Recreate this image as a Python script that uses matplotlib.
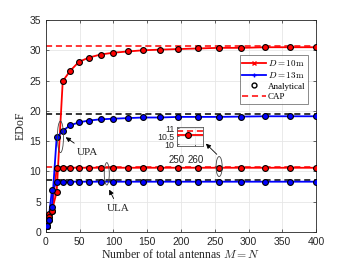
import numpy as np
import matplotlib
matplotlib.use('Agg')
import matplotlib.pyplot as plt
from matplotlib.patches import Ellipse
from matplotlib.lines import Line2D

plt.rcParams['font.family'] = 'Liberation Sans'
plt.rcParams['mathtext.fontset'] = 'cm'

# total antennas M = N
x = [1, 4, 9, 16, 25, 36, 49, 64, 81, 100, 121, 144, 169, 196, 225, 256, 289, 324, 361, 400]

upa_d10 = [1.0, 3.0, 3.5, 6.6, 24.9, 26.6, 28.1, 28.8, 29.3, 29.6, 29.8, 30.0, 30.1, 30.2,
           30.3, 30.4, 30.4, 30.5, 30.5, 30.5]
upa_d13 = [1.0, 2.0, 4.2, 15.6, 16.7, 17.6, 18.1, 18.4, 18.6, 18.7, 18.8, 18.9, 18.9, 19.0,
           19.0, 19.0, 19.05, 19.1, 19.1, 19.1]
ula_d10 = [1.0, 2.5, 3.5, 10.5, 10.6, 10.6, 10.6, 10.6, 10.6, 10.6, 10.6, 10.6, 10.6, 10.6,
           10.6, 10.6, 10.6, 10.6, 10.6, 10.6]
ula_d13 = [1.0, 2.0, 6.9, 8.2, 8.3, 8.3, 8.3, 8.3, 8.3, 8.3, 8.3, 8.3, 8.3, 8.3,
           8.3, 8.3, 8.3, 8.3, 8.3, 8.3]

cap_upa_d10 = 30.7
cap_upa_d13 = 19.4
cap_ula_d10 = 10.8
cap_ula_d13 = 8.6

red = '#ff0000'
blue = '#0000ff'
tc = '#262626'

fig = plt.figure(figsize=(3.5, 2.63), dpi=100)
ax = fig.add_axes([0.131, 0.118, 0.772, 0.806])


def draw(a, ms=4.2):
    for y, c, m in [(upa_d10, red, 'x'), (ula_d10, red, 'x'),
                    (upa_d13, blue, '+'), (ula_d13, blue, '+')]:
        a.plot(x, y, color=c, lw=1.3, marker=m, ms=3, zorder=3)
        a.plot(x, y, ls='none', marker='o', ms=ms, mfc=c, mec='k', mew=0.8, zorder=4)
    for v, c in [(cap_upa_d10, red), (cap_ula_d10, red),
                 (cap_upa_d13, 'k'), (cap_ula_d13, 'k')]:
        a.axhline(v, color=c, ls=(0, (4, 2.5)), lw=1.1, zorder=2)


draw(ax)
ax.set_xlim(0, 400)
ax.set_ylim(0, 35)
ax.set_xticks(np.arange(0, 401, 50))
ax.set_yticks(np.arange(0, 36, 5))
ax.grid(True, color='#e6e6e6', lw=0.6)
ax.set_axisbelow(True)
ax.tick_params(direction='in', labelsize=7.5, colors=tc, length=2.5, width=0.5,
               top=True, right=True)
for s in ax.spines.values():
    s.set_color(tc)
    s.set_linewidth(0.6)
ax.set_xlabel('Number of total antennas $M=N$', family='Liberation Serif',
              fontsize=8.5, color=tc, labelpad=1)
ax.set_ylabel('EDoF', family='Liberation Serif', fontsize=8.5, color=tc, labelpad=2)

handles = [Line2D([], [], color=red, lw=1.3, marker='x', ms=3),
           Line2D([], [], color=blue, lw=1.3, marker='+', ms=3),
           Line2D([], [], ls='none', marker='o', ms=3.5, mfc='none', mec='k', mew=1),
           Line2D([], [], color=red, lw=1.1, ls=(0, (4, 2.5)))]
labels = [r'$D=10\,\mathrm{m}$', r'$D=13\,\mathrm{m}$', 'Analytical', 'CAP']
leg = ax.legend(handles, labels, loc='upper right', bbox_to_anchor=(0.97, 0.835),
                prop={'family': 'Liberation Serif', 'size': 6.5},
                frameon=True, fancybox=False, edgecolor='#555555', handlelength=2.6,
                handletextpad=0.2, borderpad=0.3, labelspacing=0.25, borderaxespad=0)
leg.get_frame().set_linewidth(0.6)

# annotations
for cx, cy, w, h in [(21.6, 15.7, 9, 5.2), (90.2, 9.6, 7.4, 3.7), (256.5, 10.8, 9, 3.3)]:
    ax.add_patch(Ellipse((cx, cy), w, h, fill=False, ec='#444444', lw=0.6, zorder=5))
ax.annotate('UPA', xy=(26, 15.9), xytext=(61, 13.2), fontsize=8,
            family='Liberation Serif', color=tc, ha='center', va='center',
            arrowprops=dict(arrowstyle='-|>', color='k', lw=0.6, mutation_scale=7))
ax.annotate('ULA', xy=(92, 7.4), xytext=(107.5, 3.9), fontsize=8,
            family='Liberation Serif', color=tc, ha='center', va='center',
            arrowprops=dict(arrowstyle='-|>', color='k', lw=0.6, mutation_scale=7))
ax.annotate('', xy=(234, 14.9), xytext=(256, 12.5),
            arrowprops=dict(arrowstyle='-|>', color='k', lw=0.6, mutation_scale=7))

# inset
axi = fig.add_axes([176.7 / 350, 1 - 145.7 / 263, 26 / 350, 19 / 263])
draw(axi, ms=4.2)
axi.set_xlim(250, 264)
axi.set_ylim(9.9, 11.1)
axi.set_xticks([250, 260])
axi.set_yticks([10, 10.5, 11])
axi.set_yticklabels(['10', '10.5', '11'])
axi.grid(True, color='#e6e6e6', lw=0.6)
axi.tick_params(direction='in', labelsize=6.3, colors=tc, length=1.5, width=0.5, pad=1.5)
axi.tick_params(axis='x', labelsize=7, pad=7)
for s in axi.spines.values():
    s.set_color('#555555')
    s.set_linewidth(0.6)

fig.savefig('out.png', dpi=100)
